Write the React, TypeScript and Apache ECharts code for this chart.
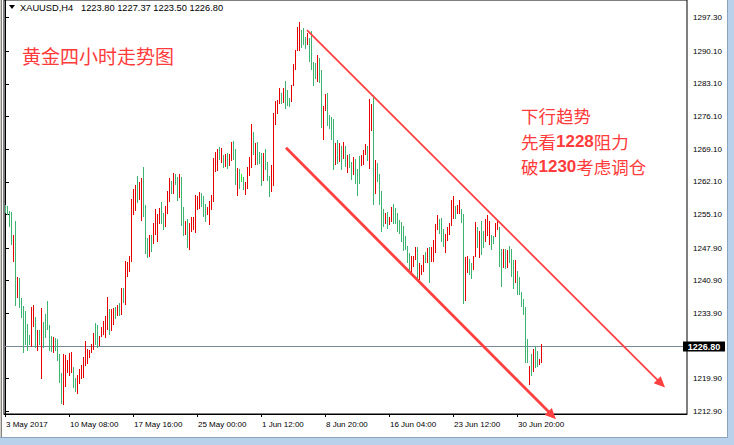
import React, { useEffect, useRef } from 'react';
import * as echarts from 'echarts';

// ---- data (XAUUSD H4 bars) ----
const symbolName = 'XAUUSD,H4';
const lastOpen = 1223.8;
const lastClose = 1226.8;

const highs = [
  1257.13, 1256.91, 1255.85, 1255.7, 1250.73, 1253.71, 1241.62, 1241.4, 1237.14, 1235.43,
  1234.36, 1231.67, 1229.18, 1235.22, 1235.79, 1233.08, 1230.24, 1230.24, 1234.94, 1231.95,
  1233.81, 1236.65, 1231.31, 1228.96, 1228.82, 1228.6, 1228.47, 1225.27, 1221.01, 1225.12,
  1224.91, 1223.99, 1225.48, 1225.61, 1222.29, 1219.94, 1220.64, 1221.92, 1222.78, 1224.55,
  1227.9, 1226.34, 1225.98, 1227.26, 1229.75, 1231.8, 1231.31, 1228.96, 1230.95, 1232.16,
  1233.23, 1237.5, 1234.87, 1234.87, 1235.0, 1235.36, 1235.72, 1236.15, 1239.27, 1239.27,
  1245.18, 1244.82, 1246.24, 1258.47, 1260.6, 1261.39, 1263.31, 1262.03, 1262.95, 1265.23,
  1257.13, 1250.15, 1250.73, 1250.73, 1253.35, 1256.34, 1255.27, 1256.55, 1257.77, 1255.48,
  1256.91, 1260.11, 1262.95, 1262.25, 1264.02, 1263.68, 1263.1, 1263.68, 1263.16, 1256.7,
  1253.71, 1254.08, 1253.35, 1254.57, 1254.57, 1259.26, 1259.05, 1259.96, 1259.75, 1259.05,
  1257.27, 1256.7, 1257.98, 1259.26, 1267.22, 1268.5, 1269.07, 1269.65, 1269.29, 1267.86,
  1268.07, 1268.22, 1268.01, 1270.57, 1270.85, 1269.07, 1265.02, 1264.81, 1263.74, 1263.1,
  1261.97, 1265.23, 1267.52, 1274.41, 1272.7, 1270.35, 1270.57, 1268.43, 1268.22, 1268.22,
  1269.07, 1266.45, 1263.38, 1265.72, 1276.75, 1279.38, 1279.74, 1282.3, 1281.23, 1282.3,
  1283.73, 1281.88, 1280.17, 1282.94, 1287.42, 1290.26, 1295.25, 1296.32, 1294.68, 1295.1,
  1293.25, 1294.04, 1292.97, 1294.4, 1287.78, 1287.57, 1289.19, 1288.7, 1285.99, 1278.25,
  1280.87, 1281.23, 1276.33, 1275.9, 1275.54, 1270.42, 1271.14, 1270.42, 1269.71, 1270.57,
  1269.86, 1267.94, 1268.16, 1266.3, 1267.43, 1267.0, 1264.74, 1267.58, 1267.94, 1268.86,
  1270.29, 1269.86, 1279.81, 1278.82, 1280.74, 1266.88, 1266.15, 1263.68, 1260.11, 1256.21,
  1255.48, 1255.7, 1254.63, 1256.76, 1257.4, 1256.55, 1255.36, 1253.86, 1253.56, 1252.65,
  1250.51, 1248.38, 1246.74, 1246.24, 1246.24, 1248.02, 1248.1, 1244.69, 1244.26, 1246.46,
  1247.1, 1247.89, 1248.02, 1248.23, 1249.66, 1253.01, 1254.93, 1254.08, 1254.42, 1251.94,
  1250.87, 1252.5, 1253.35, 1258.19, 1259.05, 1256.91, 1257.06, 1258.19, 1256.21, 1255.14,
  1245.88, 1246.24, 1245.54, 1244.69, 1246.24, 1253.5, 1252.5, 1251.58, 1253.71, 1251.58,
  1254.08, 1254.93, 1253.71, 1250.66, 1250.51, 1253.22, 1253.71, 1252.5, 1247.8, 1247.8,
  1247.68, 1247.53, 1248.38, 1247.68, 1245.39, 1245.39, 1243.05, 1241.77, 1238.42, 1237.01,
  1235.22, 1228.47, 1222.56, 1225.27, 1226.34, 1226.83, 1225.83, 1224.21, 1227.37,
];

const lows = [
  1255.7, 1255.27, 1252.65, 1248.87, 1245.18, 1235.79, 1237.35, 1235.36, 1233.08, 1225.61,
  1227.41, 1226.13, 1227.41, 1226.83, 1231.1, 1226.68, 1226.13, 1227.41, 1220.07, 1226.68,
  1228.82, 1230.61, 1226.13, 1225.83, 1225.61, 1226.13, 1223.99, 1219.15, 1214.73, 1214.39,
  1218.3, 1221.35, 1220.64, 1221.35, 1218.15, 1217.29, 1216.87, 1219.0, 1219.94, 1220.28,
  1222.78, 1223.27, 1224.55, 1225.61, 1226.34, 1227.41, 1226.68, 1227.05, 1228.96, 1229.39,
  1228.82, 1230.61, 1229.54, 1230.24, 1231.52, 1232.87, 1233.45, 1233.59, 1233.66, 1236.28,
  1235.94, 1241.98, 1243.05, 1245.18, 1255.27, 1255.98, 1257.77, 1258.34, 1253.86, 1254.78,
  1246.74, 1246.03, 1246.24, 1247.31, 1249.08, 1251.0, 1249.45, 1253.35, 1253.35, 1251.94,
  1252.65, 1255.48, 1257.98, 1259.75, 1259.75, 1261.54, 1258.19, 1258.83, 1252.86, 1250.73,
  1251.0, 1248.02, 1247.8, 1251.58, 1252.01, 1251.43, 1256.21, 1256.42, 1256.91, 1254.78,
  1253.71, 1255.14, 1253.14, 1256.21, 1257.98, 1264.38, 1264.66, 1266.94, 1266.45, 1265.38,
  1265.51, 1265.02, 1265.72, 1266.79, 1266.94, 1261.67, 1259.32, 1260.75, 1262.18, 1260.54,
  1259.54, 1260.75, 1263.46, 1265.23, 1268.07, 1265.94, 1265.87, 1266.09, 1261.46, 1262.52,
  1264.81, 1262.52, 1259.11, 1260.18, 1261.46, 1274.47, 1276.9, 1278.89, 1279.04, 1279.25,
  1277.82, 1278.53, 1278.31, 1279.46, 1282.79, 1286.36, 1290.41, 1290.41, 1290.99, 1291.69,
  1290.84, 1291.54, 1287.91, 1286.36, 1282.79, 1284.44, 1283.65, 1283.6, 1273.92, 1271.27,
  1277.4, 1274.19, 1273.62, 1271.27, 1264.74, 1266.02, 1266.15, 1266.51, 1264.74, 1267.22,
  1265.45, 1264.17, 1265.3, 1262.74, 1263.68, 1261.76, 1259.2, 1261.76, 1265.81, 1266.02,
  1268.16, 1266.88, 1265.09, 1273.28, 1257.27, 1259.75, 1262.25, 1257.27, 1251.58, 1252.65,
  1253.35, 1252.28, 1253.01, 1253.71, 1253.35, 1253.35, 1251.58, 1251.22, 1249.45, 1247.53,
  1247.68, 1244.82, 1243.05, 1242.83, 1244.11, 1245.54, 1241.27, 1241.27, 1242.34, 1243.05,
  1244.82, 1244.82, 1240.7, 1245.18, 1245.18, 1246.95, 1251.94, 1251.22, 1249.45, 1248.38,
  1246.95, 1249.66, 1250.87, 1252.8, 1254.42, 1254.42, 1255.48, 1255.36, 1253.5, 1236.15,
  1236.86, 1242.68, 1242.34, 1241.4, 1243.41, 1246.24, 1248.02, 1245.88, 1246.61, 1248.02,
  1249.45, 1250.66, 1248.74, 1247.8, 1248.95, 1250.51, 1251.94, 1244.11, 1239.85, 1243.75,
  1243.54, 1243.75, 1244.82, 1241.98, 1239.27, 1240.55, 1238.08, 1238.08, 1235.58, 1233.81,
  1223.48, 1223.48, 1218.66, 1220.64, 1221.56, 1222.41, 1222.56, 1223.14, 1223.5,
];

// R = up bar (red), G = down bar (green), L = unchanged bar (lime)
const directions =
  'GGGGRGRGGG' + 'GGGRRGRGRG' + 'GGGGRGGGGR' + 'RRRRGGRRRR' + 'RRRRRGGRRR' +
  'RRGRRGRGRG' + 'RRRRRRGRRG' + 'GGRGRRRRGG' + 'RRRGRGGRGG' + 'RGRRRRRRGG' +
  'GRRRRRRGRG' + 'RGRRGGRGLG' + 'RRRRGRGGGR' + 'GGGRRRRRGR' + 'GGGRRRRRGG' +
  'GRGGGGRGGR' + 'RGGGGRGRGR' + 'GRGGRGGGRR' + 'RGRRGRGGGG' + 'RGRRGGGGGG' +
  'GGGRRRGRRR' + 'GRGRRRRGGG' + 'RRRRRGRRGG' + 'RRGGRRGRGG' + 'RRRGGRRGGR' +
  'GRGGGRGGGG' + 'GGRGRGGRR';

const timeLabels = [
  '3 May 2017', '10 May 08:00', '17 May 16:00', '25 May 00:00', '1 Jun 12:00',
  '8 Jun 20:00', '16 Jun 04:00', '23 Jun 12:00', '30 Jun 20:00',
];
const barsPerTimeLabel = 32;

const priceTicks = [
  1297.3, 1290.1, 1283.1, 1276.1, 1269.1, 1262.1, 1255.1, 1247.9, 1240.9, 1233.9, 1219.9, 1212.9,
];

// trend lines: [fromBar, fromPrice, toBar, toPrice, lineWidth]
const trendLines = [
  [151, 1294.6, 330, 1218.0, 1.8],
  [140.5, 1269.4, 275.5, 1211.2, 2.8],
];

const titleText = '黄金四小时走势图';
const noteLines = ['下行趋势', '先看{n|1228}阻力', '破{n|1230}考虑调仓'];

const UP = '#e60000';
const DOWN = '#3cb371';
const FLAT = '#2ee82e';
const NOTE_RED = '#ff3b3b';

export default function App() {
  const ref = useRef<HTMLDivElement>(null);

  useEffect(() => {
    document.body.style.margin = '0';
    if (!ref.current) return;
    const chart = echarts.init(ref.current, undefined, { renderer: 'svg' });

    const nBars = highs.length;
    const lastHigh = highs[nBars - 1];
    const lastLow = lows[nBars - 1];
    const header =
      symbolName + '\u00a0\u00a0 ' +
      [lastOpen, lastHigh, lastLow, lastClose].map((v) => v.toFixed(2)).join(' ');
    const labelIdx = timeLabels.map((_, k) => k * barsPerTimeLabel);

    const option: any = {
      animation: false,
      backgroundColor: '#ffffff',
      grid: {
        left: 4,
        right: 47,
        top: -2,
        bottom: 31,
        show: true,
        borderColor: '#000',
        borderWidth: 1,
        backgroundColor: '#fff',
      },
      xAxis: {
        type: 'value',
        min: -0.5,
        max: 341,
        axisLine: { show: true, onZero: false, lineStyle: { color: '#000', width: 1 } },
        axisTick: { show: true, length: 3, customValues: labelIdx, lineStyle: { color: '#000' } },
        axisLabel: {
          customValues: labelIdx,
          formatter: (v: number) => timeLabels[Math.round(v / barsPerTimeLabel)] ?? '',
          align: 'left',
          color: '#000',
          fontSize: 8,
          fontFamily: 'Liberation Sans',
          margin: 6,
          padding: [0, 0, 0, 1],
        },
        splitLine: { show: false },
      },
      yAxis: {
        type: 'value',
        position: 'right',
        min: 1212.32,
        max: 1301.08,
        axisLine: { show: true, lineStyle: { color: '#000', width: 1 } },
        axisTick: { show: true, length: 4, customValues: priceTicks, lineStyle: { color: '#000' } },
        axisLabel: {
          customValues: priceTicks,
          formatter: (v: number) => v.toFixed(2),
          color: '#000',
          fontSize: 8,
          fontFamily: 'Liberation Sans',
          margin: 6,
        },
        splitLine: { show: false },
      },
      series: [
        {
          // current price line with label box
          type: 'custom',
          z: 1,
          clip: false,
          data: [[0, lastClose]],
          encode: { x: 0, y: 1 },
          renderItem: (params: any, api: any) => {
            const cs = params.coordSys;
            const p = api.coord([0, api.value(1)]);
            const y = Math.round(p[1]) + 0.5;
            const right = cs.x + cs.width;
            return {
              type: 'group',
              children: [
                {
                  type: 'line',
                  shape: { x1: cs.x, y1: y, x2: right, y2: y },
                  style: { stroke: '#778899', lineWidth: 1 },
                },
                {
                  type: 'rect',
                  shape: { x: right - 4, y: y - 5, width: 42, height: 10 },
                  style: { fill: '#000' },
                  z2: 10,
                },
                {
                  type: 'text',
                  x: right + 17,
                  y: y,
                  z2: 11,
                  style: {
                    text: lastClose.toFixed(2),
                    fill: '#fff',
                    font: 'bold 9px "Liberation Sans"',
                    align: 'center',
                    verticalAlign: 'middle',
                  },
                },
              ],
            };
          },
        },
        {
          // OHLC bars (high-low strokes)
          type: 'custom',
          z: 2,
          clip: false,
          data: highs.map((h, i) => [i, lows[i], h]),
          encode: { x: 0, y: [1, 2] },
          renderItem: (params: any, api: any) => {
            const i = api.value(0);
            const top = api.coord([i, api.value(2)]);
            const bot = api.coord([i, api.value(1)]);
            const x = Math.round(top[0]) + 0.5;
            const d = directions[params.dataIndex];
            const color = d === 'R' ? UP : d === 'L' ? FLAT : DOWN;
            return {
              type: 'line',
              shape: { x1: x, y1: Math.round(top[1]), x2: x, y2: Math.round(bot[1]) + 1 },
              style: { stroke: color, lineWidth: 1 },
            };
          },
        },
        {
          // trend lines with arrow heads
          type: 'custom',
          z: 3,
          clip: false,
          data: trendLines,
          encode: { x: [0, 2], y: [1, 3] },
          renderItem: (params: any, api: any) => {
            const a = api.coord([api.value(0), api.value(1)]);
            const b = api.coord([api.value(2), api.value(3)]);
            const w = api.value(4);
            const dx = b[0] - a[0];
            const dy = b[1] - a[1];
            const len = Math.sqrt(dx * dx + dy * dy);
            const ux = dx / len;
            const uy = dy / len;
            const L = 11;
            const H = 5;
            const bx = b[0] - ux * L;
            const by = b[1] - uy * L;
            return {
              type: 'group',
              children: [
                {
                  type: 'line',
                  shape: { x1: a[0], y1: a[1], x2: bx + ux * 2, y2: by + uy * 2 },
                  style: { stroke: '#ff4040', lineWidth: w, lineCap: 'butt' },
                },
                {
                  type: 'polygon',
                  shape: {
                    points: [
                      [b[0], b[1]],
                      [bx - uy * H, by + ux * H],
                      [bx + uy * H, by - ux * H],
                    ],
                  },
                  style: { fill: '#ff4040' },
                },
              ],
            };
          },
        },
      ],
      graphic: [
        { type: 'rect', shape: { x: 0, y: 0, width: 1, height: 437 }, style: { fill: '#d4d0c8' }, z: 100 },
        { type: 'rect', shape: { x: 1, y: 0, width: 1, height: 437 }, style: { fill: '#808080' }, z: 100 },
        { type: 'rect', shape: { x: 0, y: 437, width: 734, height: 8 }, style: { fill: '#b9d1ea' }, z: 100 },
        { type: 'rect', shape: { x: 0, y: 437, width: 734, height: 1 }, style: { fill: '#8ba5c0' }, z: 100 },
        { type: 'rect', shape: { x: 727, y: 0, width: 7, height: 445 }, style: { fill: '#b9d1ea' }, z: 100 },
        { type: 'rect', shape: { x: 727, y: 0, width: 1, height: 438 }, style: { fill: '#8ba5c0' }, z: 100 },
        {
          type: 'polygon',
          shape: { points: [[9, 5], [15, 5], [12, 9]] },
          style: { fill: '#000' },
          z: 100,
        },
        {
          type: 'text',
          x: 20,
          y: 7.5,
          z: 100,
          style: {
            text: header,
            fill: '#000',
            font: '9.3px "Liberation Sans"',
            verticalAlign: 'middle',
          },
        },
        {
          type: 'text',
          x: 22,
          y: 55,
          z: 100,
          style: {
            text: titleText,
            fill: NOTE_RED,
            font: '19px "Noto Sans CJK SC"',
            verticalAlign: 'middle',
          },
        },
        ...noteLines.map((t, k) => ({
          type: 'text',
          x: 521,
          y: 115.5 + k * 25.5,
          z: 100,
          style: {
            text: t,
            fill: NOTE_RED,
            font: '17.5px "Noto Sans CJK SC"',
            lineHeight: 20,
            verticalAlign: 'middle',
            rich: {
              n: {
                fontFamily: 'Liberation Sans',
                fontWeight: 'bold',
                fontSize: 17,
                lineHeight: 20,
                fill: NOTE_RED,
              },
            },
          },
        })),
      ],
    };

    chart.setOption(option);
    return () => chart.dispose();
  }, []);

  return <div ref={ref} style={{ width: 734, height: 445 }} />;
}
